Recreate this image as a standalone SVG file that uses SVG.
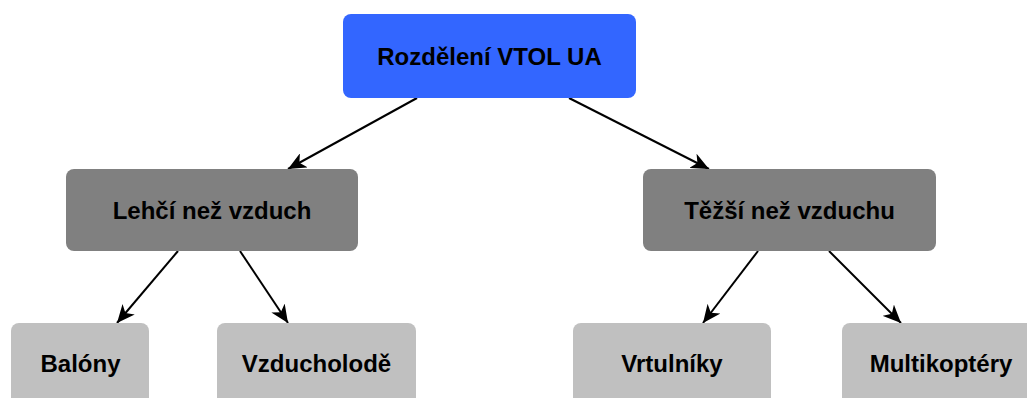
<svg xmlns="http://www.w3.org/2000/svg" width="1027" height="398" viewBox="0 0 1027 398">
<style>
.lbl{font-family:"Liberation Sans",Arial,sans-serif;font-weight:bold;font-size:24px;fill:#000;text-anchor:middle}
.edge{stroke:#000;stroke-width:2;fill:none}
.root{fill:#3366FF}
.mid{fill:#808080}
.leaf{fill:#C0C0C0}
</style>
<defs>
<marker id="arr" markerUnits="userSpaceOnUse" markerWidth="20" markerHeight="16" refX="18" refY="8" orient="auto" viewBox="0 0 20 16">
<path d="M0,0 L18,8 L0,16 L5,8 Z" fill="#000"/>
</marker>
</defs>
<rect width="1027" height="398" fill="#fff"/>
<g id="connectors">
<line class="edge" x1="417" y1="98" x2="288" y2="169" marker-end="url(#arr)"/>
<line class="edge" x1="569" y1="98" x2="709" y2="169" marker-end="url(#arr)"/>
<line class="edge" x1="178" y1="251" x2="117" y2="323" marker-end="url(#arr)"/>
<line class="edge" x1="240" y1="251" x2="288" y2="323" marker-end="url(#arr)"/>
<line class="edge" x1="758" y1="251" x2="703" y2="323" marker-end="url(#arr)"/>
<line class="edge" x1="829" y1="251" x2="901" y2="323" marker-end="url(#arr)"/>
</g>
<g id="root"><rect class="root" x="343" y="14" width="293" height="84" rx="8"/><text class="lbl" x="489.5" y="64.5">Rozdělení VTOL UA</text></g>
<g id="lehci"><rect class="mid" x="66" y="169" width="292" height="82" rx="8"/><text class="lbl" x="212" y="219">Lehčí než vzduch</text></g>
<g id="tezsi"><rect class="mid" x="643" y="169" width="293" height="82" rx="8"/><text class="lbl" x="789.5" y="219">Těžší než vzduchu</text></g>
<g id="balony"><rect class="leaf" x="11" y="323" width="138" height="82" rx="8"/><text class="lbl" x="80.5" y="371.5">Balóny</text></g>
<g id="vzducholode"><rect class="leaf" x="217" y="323" width="199" height="82" rx="8"/><text class="lbl" x="316.5" y="371.5">Vzducholodě</text></g>
<g id="vrtulniky"><rect class="leaf" x="573" y="323" width="198" height="82" rx="8"/><text class="lbl" x="672" y="371.5">Vrtulníky</text></g>
<g id="multikoptery"><rect class="leaf" x="842" y="323" width="198" height="82" rx="8"/><text class="lbl" x="941" y="371.5">Multikoptéry</text></g>
</svg>
